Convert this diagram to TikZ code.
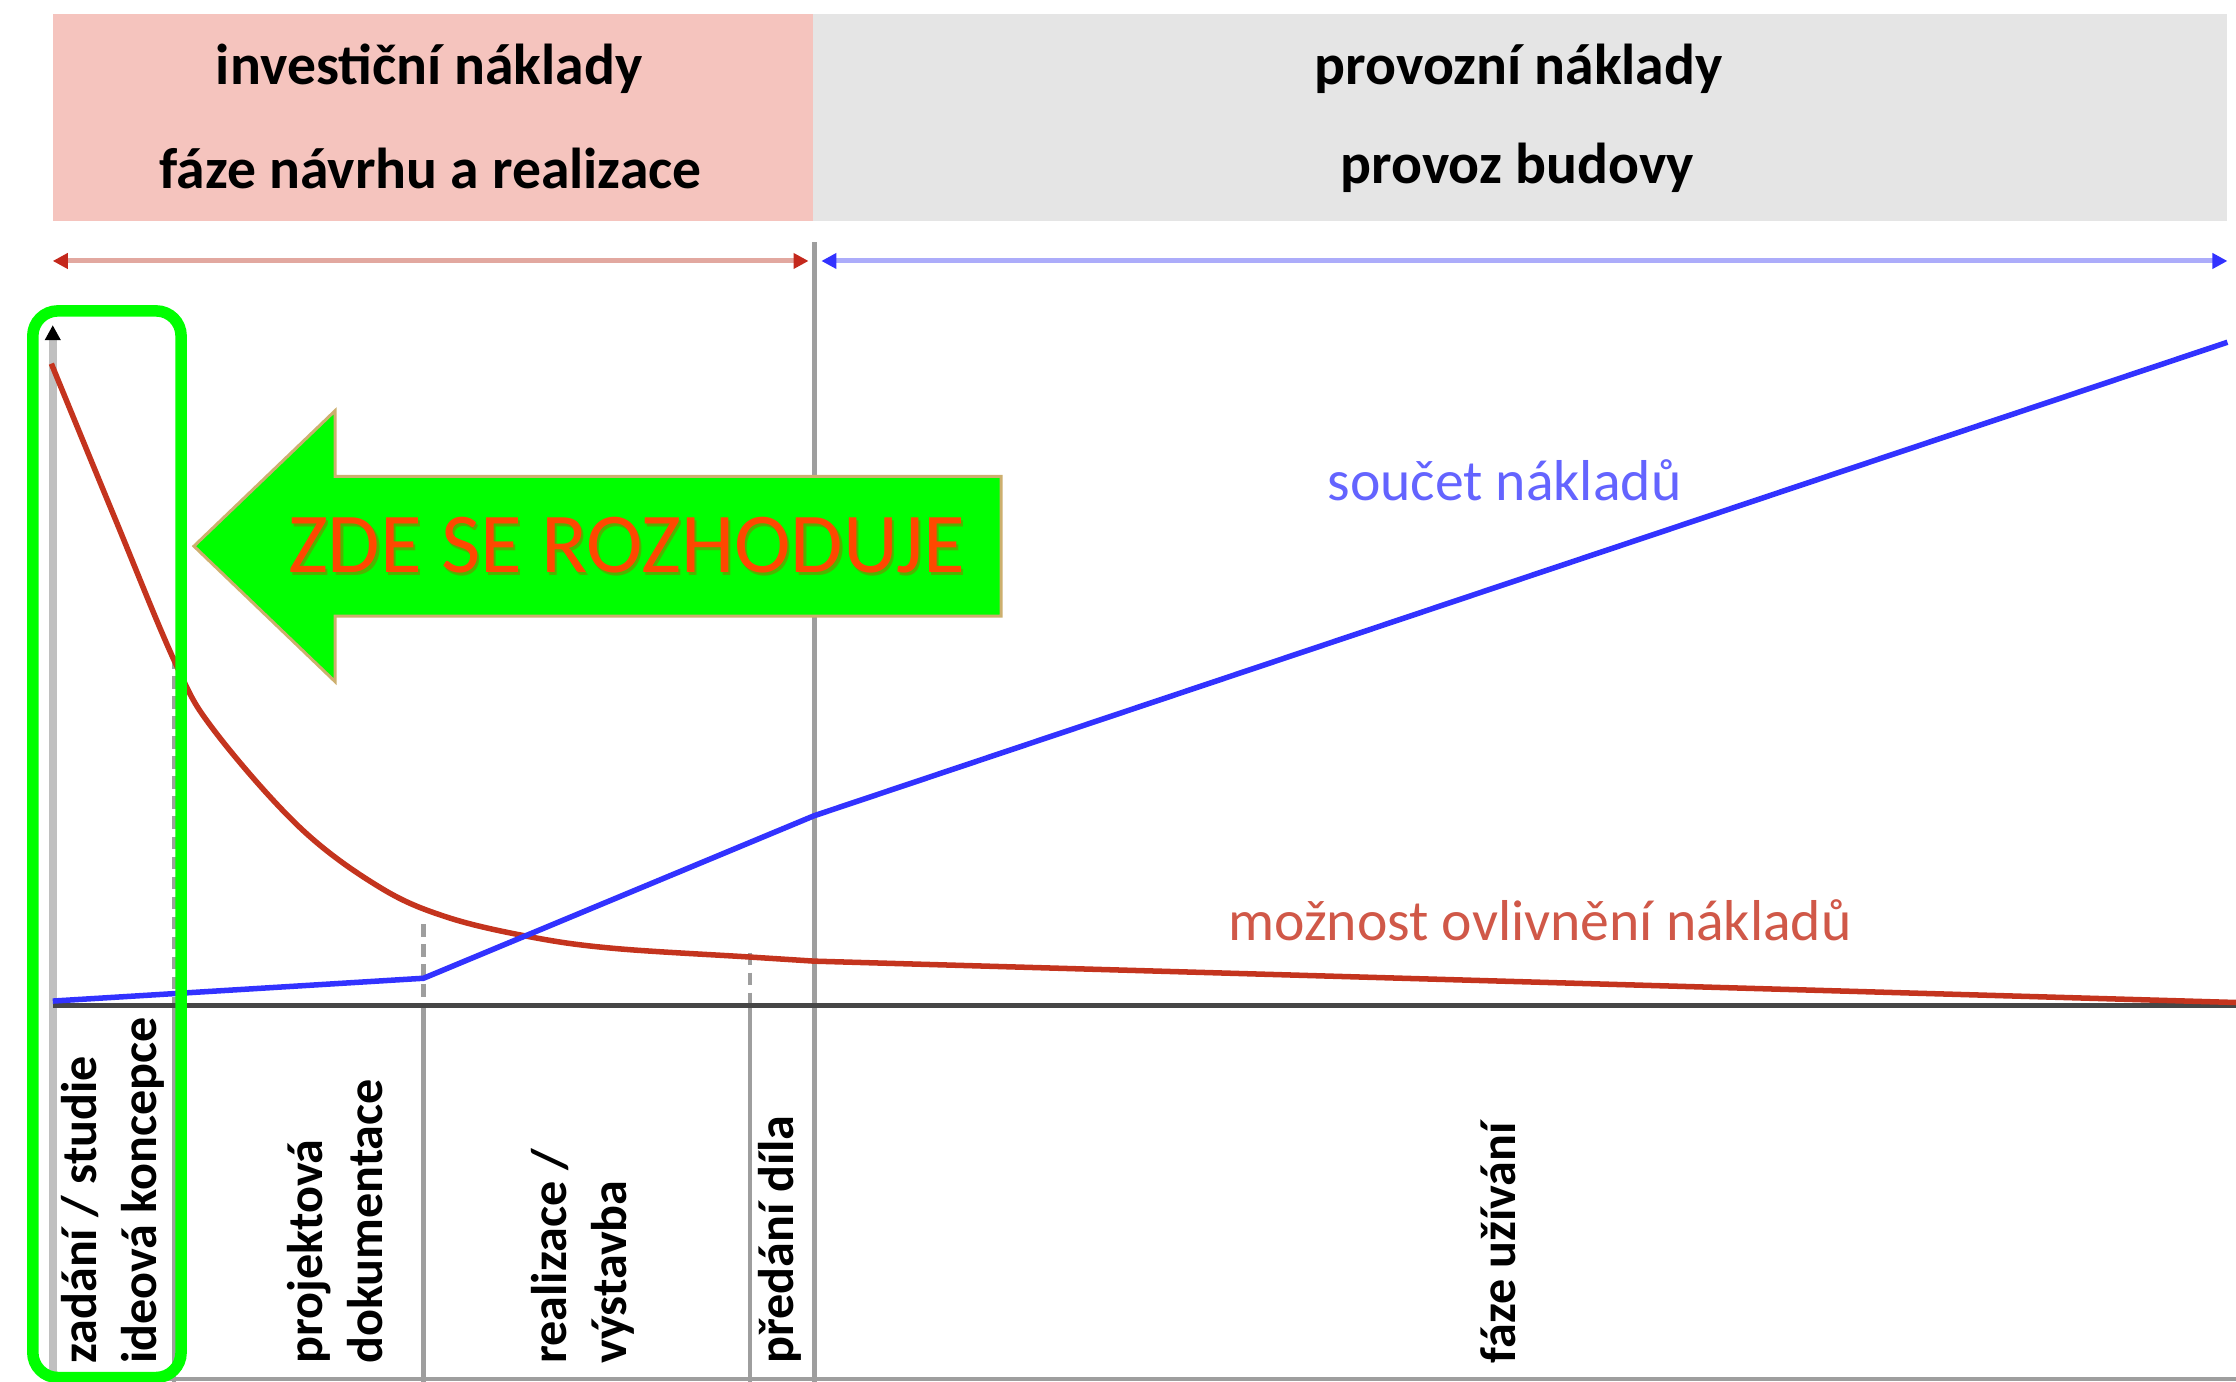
\documentclass[tikz,border=0pt]{standalone}
\usepackage{fontspec}
\setmainfont{Carlito}
\usetikzlibrary{arrows.meta}
\definecolor{pinkbox}{RGB}{245,196,190}
\definecolor{graybox}{RGB}{229,229,229}
\definecolor{curvered}{RGB}{196,52,30}
\definecolor{lightred}{RGB}{226,168,160}
\definecolor{tipred}{RGB}{196,40,28}
\definecolor{lightblue}{RGB}{172,172,250}
\definecolor{curveblue}{RGB}{50,50,255}
\definecolor{labelblue}{RGB}{100,100,255}
\definecolor{labelred}{RGB}{208,88,72}
\definecolor{sepgray}{RGB}{158,158,158}
\definecolor{axisgray}{RGB}{192,192,192}
\definecolor{axisdark}{RGB}{70,70,70}
\definecolor{brightgreen}{RGB}{0,255,0}
\definecolor{arrowedge}{RGB}{205,175,110}
\definecolor{zdetext}{RGB}{255,72,0}
\definecolor{zdeshadow}{RGB}{130,130,0}

\begin{document}
\begin{tikzpicture}[x=0.01cm,y=-0.01cm,
  headtext/.style={font=\fontsize{11.5}{13}\selectfont\bfseries},
  phase/.style={font=\fontsize{10}{12}\selectfont\bfseries,rotate=90,anchor=west,align=left,inner sep=0pt},
  sep/.style={draw=sepgray,line width=0.9pt},
  sepdash/.style={sep,dash pattern=on 2.5pt off 1.5pt},
  curvelabel/.style={font=\fontsize{11.5}{13}\selectfont},
  zdefont/.style={font=\fontsize{17}{20}\selectfont}]
\useasboundingbox (0,0) rectangle (1568,969);
% header
\fill[pinkbox] (37,10) rectangle (570,155);
\fill[graybox] (570,10) rectangle (1562,155);
\node[headtext] (inv) at (301,48) {investiční náklady};
\node[headtext] (invphase) at (302,118) {fáze návrhu a realizace};
\node[headtext] (prov) at (1065,48) {provozní náklady};
\node[headtext] (provphase) at (1064,118) {provoz budovy};
% ranges
\coordinate (invL) at (37,183);
\coordinate (invR) at (567,183);
\coordinate (provL) at (576,183);
\coordinate (provR) at (1562,183);
\draw[lightred,line width=1pt,{Triangle[color=tipred,length=3pt,width=3pt]}-{Triangle[color=tipred,length=3pt,width=3pt]}] (invL) -- (invR);
\draw[lightblue,line width=1pt,{Triangle[color=curveblue,length=3pt,width=3pt]}-{Triangle[color=curveblue,length=3pt,width=3pt]}] (provL) -- (provR);
% phase borders
\draw[sepdash] (122,460) -- (122,705);
\draw[sep] (122,705) -- (122,969);
\draw[sepdash] (297,648) -- (297,705);
\draw[sep] (297,705) -- (297,969);
\draw[sepdash] (526,668) -- (526,705);
\draw[sep] (526,705) -- (526,969);
\draw[sep] (571,170) -- (571,969);
\draw[sep] (37,967) -- (1568,967);
% axes
\draw[axisgray,line width=1.6pt,-{Triangle[color=black,length=3pt,width=3pt]}] (37,969) -- (37,228);
\draw[axisdark,line width=1.1pt] (37,705) -- (1568,705);
% curves
\draw[curvered,line width=1.1pt] plot[smooth,tension=0.6] coordinates {(36,255) (80,362) (123,465) (150,512) (210,580) (266,622) (313,643) (372,657) (430,665) (524,671) (571,674)} -- (1568,703);
\draw[curveblue,line width=1.1pt] (37,702) -- (297,686) -- (571,572) -- (1562,240);
\node[curvelabel,text=labelblue] (sum) at (1055,337) {součet nákladů};
\node[curvelabel,text=labelred] (infl) at (1080,645) {možnost ovlivnění nákladů};
% phases
\node[phase] (zadani) at (79,957) {zadání / studie\\ideová koncepce};
\node[phase] (projekt) at (235,957) {projektová\\dokumentace};
\node[phase] (realiz) at (409,957) {realizace /\\výstavba};
\node[phase] (predani) at (547,957) {předání díla};
\node[phase] (uzivani) at (1051,957) {fáze užívání};
% decision
\draw[brightgreen,line width=2.3pt,rounded corners=5pt] (23,218) rectangle (127,966);
\filldraw[fill=brightgreen,draw=arrowedge,line width=0.6pt] (136,383) -- (235,288) -- (235,334) -- (702,334) -- (702,432) -- (235,432) -- (235,478) -- cycle;
\node[zdefont,text=zdeshadow,opacity=0.6] (zdeshade) at (441,384.5) {ZDE SE ROZHODUJE};
\node[zdefont,text=zdetext] (zde) at (439.5,382.5) {ZDE SE ROZHODUJE};
\end{tikzpicture}
\end{document}
